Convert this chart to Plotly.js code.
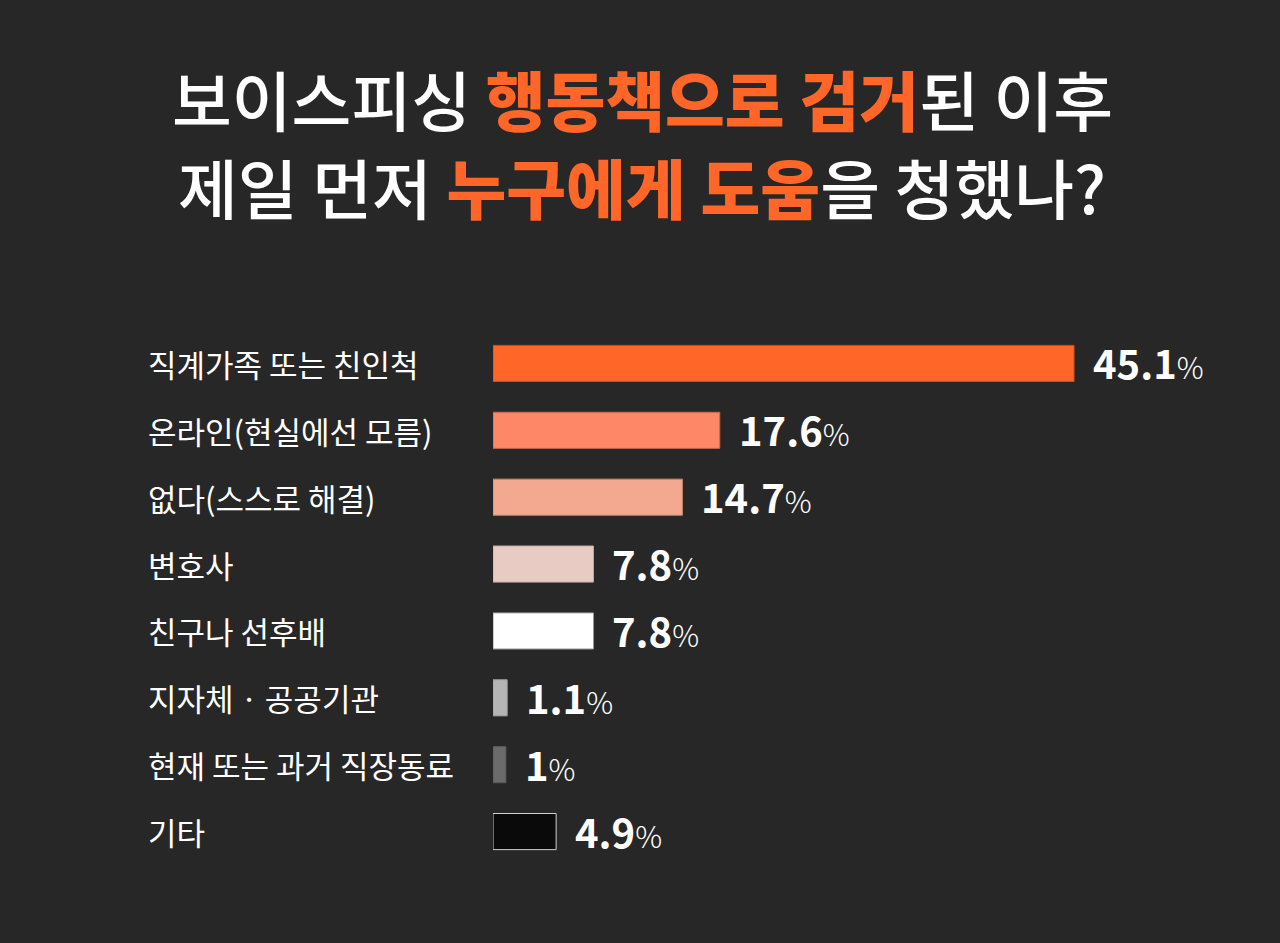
<!DOCTYPE html>
<html>
<head>
<meta charset="utf-8">
<script src="https://cdn.plot.ly/plotly-3.0.1.min.js"></script>
<style>html,body{margin:0;padding:0;background:#272727;}</style>
</head>
<body>
<div id="chart" style="width:1280px;height:943px;"></div>
<script>
const categories = ["직계가족 또는 친인척","온라인(현실에선 모름)","없다(스스로 해결)","변호사","친구나 선후배","지자체 · 공공기관","현재 또는 과거 직장동료","기타"];
const values = [45.1, 17.6, 14.7, 7.8, 7.8, 1.1, 1, 4.9];
const valueLabels = ["45.1","17.6","14.7","7.8","7.8","1.1","1","4.9"];
const barColors = ["#FF6628","#FD8766","#F2A98F","#E8CCC3","#FFFFFF","#B5B5B5","#6B6B6B","#0A0A0A"];
const borderColors = ["#C9521F","#C96A50","#C28A75","#BFA8A0","#9A9A9A","#A0A0A0","#5A5A5A","#D0D0D0"];
const titleLine1 = "보이스피싱 <span style='color:#FF6628;font-weight:900'>행동책으로 검거</span>된 이후";
const titleLine2 = "제일 먼저 <span style='color:#FF6628;font-weight:900'>누구에게 도움</span>을 청했나?";

const FONT = "'Noto Sans CJK KR', 'Noto Sans', sans-serif";
const W = 1280, H = 943;
const mL = 493, mR = 14, mT = 329.5, mB = 77.5;
const plotH = H - mT - mB;
const pyToPaper = py => (H - mB - py) / plotH;
const pxToPaper = px => (px - mL) / (W - mL - mR);

const trace = {
  type: "bar",
  orientation: "h",
  x: values,
  y: categories,
  marker: {color: barColors, line: {color: borderColors, width: 1}},
  hoverinfo: "none"
};

const annotations = [];
annotations.push({xref:"paper", yref:"paper", x:pxToPaper(642), y:pyToPaper(97), xanchor:"center", yanchor:"middle",
  text:titleLine1, showarrow:false, font:{family:FONT, size:65, color:"#FFFFFF", weight:500}});
annotations.push({xref:"paper", yref:"paper", x:pxToPaper(642), y:pyToPaper(185), xanchor:"center", yanchor:"middle",
  text:titleLine2, showarrow:false, font:{family:FONT, size:65, color:"#FFFFFF", weight:500}});

categories.forEach((c, i) => {
  annotations.push({xref:"paper", yref:"y", x:pxToPaper(146), y:c, xanchor:"left", yanchor:"middle",
    text:c, showarrow:false, font:{family:FONT, size:31, color:"#FFFFFF", weight:400}});
  annotations.push({xref:"x", yref:"y", x:values[i], y:c, xanchor:"left", yanchor:"middle", xshift:17, yshift:1,
    text:"<b>"+valueLabels[i]+"</b><span style='font-size:30px;font-weight:300'>%</span>", showarrow:false,
    font:{family:FONT, size:40, color:"#FFFFFF", weight:700}});
});

const layout = {
  width: W, height: H,
  paper_bgcolor: "#272727", plot_bgcolor: "#272727",
  margin: {l: mL, r: mR, t: mT, b: mB, pad: 0},
  showlegend: false,
  bargap: 0.46,
  xaxis: {range: [0, 60], visible: false, fixedrange: true},
  yaxis: {type: "category", categoryorder: "array", categoryarray: categories, range: [7.5, -0.5],
          showticklabels: false, showgrid: false, zeroline: false, showline: false, ticks: "", fixedrange: true},
  annotations: annotations
};

Plotly.newPlot("chart", [trace], layout, {displayModeBar: false, staticPlot: true});
</script>
</body>
</html>
